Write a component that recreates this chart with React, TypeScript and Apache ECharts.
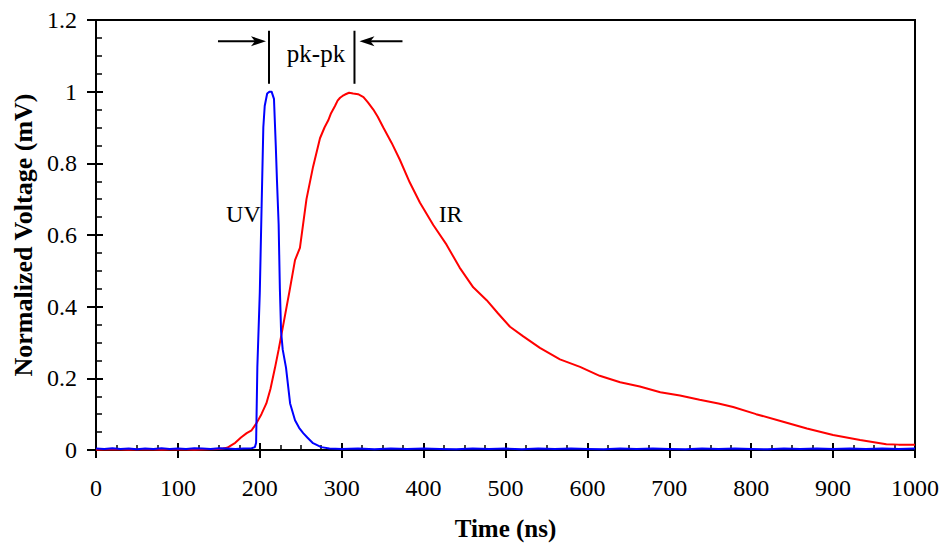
import React, { useEffect, useRef } from "react";
import * as echarts from "echarts";

// ---- data (time in ns, normalized voltage) ----
const uvTime = [0, 10, 20, 30, 40, 50, 60, 70, 80, 90, 100, 110, 120, 130, 140, 150, 160, 170, 180, 190, 194, 195.5, 197, 200, 202.3, 204.3, 206, 209, 212, 214.4, 217.3, 219.5, 221, 223, 224.5, 226, 228, 232, 237, 243, 248, 253, 258, 265, 275, 285, 300, 320, 340, 360, 380, 400, 420, 440, 460, 480, 500, 520, 540, 560, 580, 600, 620, 640, 660, 680, 700, 720, 740, 760, 780, 800, 820, 840, 860, 880, 900, 920, 940, 960, 980, 1000];
const uvValue = [0.004, 0.003, 0.005, 0.003, 0.004, 0.002, 0.004, 0.003, 0.005, 0.003, 0.004, 0.003, 0.005, 0.004, 0.003, 0.005, 0.004, 0.003, 0.004, 0.005, 0.008, 0.02, 0.23, 0.44, 0.69, 0.9, 0.96, 0.995, 1.0, 1.0, 0.98, 0.85, 0.75, 0.63, 0.45, 0.33, 0.28, 0.23, 0.13, 0.083, 0.062, 0.047, 0.035, 0.019, 0.008, 0.004, 0.003, 0.004, 0.002, 0.004, 0.003, 0.004, 0.003, 0.002, 0.004, 0.003, 0.004, 0.002, 0.004, 0.003, 0.004, 0.003, 0.002, 0.004, 0.003, 0.004, 0.003, 0.002, 0.004, 0.003, 0.004, 0.003, 0.002, 0.004, 0.003, 0.004, 0.003, 0.004, 0.003, 0.004, 0.003, 0.004];

const irTime = [0, 20, 40, 60, 80, 100, 120, 140, 150, 155, 160, 163, 170, 177, 184, 190, 196, 202, 208, 213, 218.6, 223, 228.7, 236, 243, 249, 257, 265, 273.5, 279, 283.6, 287, 291.8, 295, 298, 301, 304, 309, 314, 320, 326.6, 332, 338.6, 344, 350.8, 361, 371, 383, 395.6, 411.8, 428, 444, 460.6, 477, 491, 505.5, 521.7, 542, 566.5, 591, 615, 640, 664, 689, 713, 737, 760, 778, 806, 839, 868, 900, 933, 965, 980, 1000];
const irValue = [0.001, 0.002, 0.001, 0.002, 0.001, 0.002, 0.001, 0.002, 0.003, 0.004, 0.006, 0.01, 0.02, 0.035, 0.047, 0.055, 0.075, 0.1, 0.13, 0.17, 0.23, 0.28, 0.35, 0.44, 0.53, 0.564, 0.7, 0.79, 0.87, 0.9, 0.92, 0.94, 0.96, 0.975, 0.983, 0.988, 0.992, 0.997, 0.995, 0.993, 0.985, 0.97, 0.95, 0.93, 0.9, 0.857, 0.81, 0.747, 0.69, 0.628, 0.573, 0.509, 0.454, 0.418, 0.381, 0.344, 0.317, 0.285, 0.253, 0.232, 0.207, 0.189, 0.177, 0.161, 0.152, 0.14, 0.13, 0.12, 0.1, 0.079, 0.06, 0.042, 0.028, 0.016, 0.015, 0.015];

// annotation anchors (data coordinates)
const uvLabelPos = [180, 0.66];
const irLabelPos = [433, 0.66];
const uvPeakTime = 211.2;
const irPeakTime = 315.6;
const pkLineTop = 1.17;
const pkLineBottom = 1.022;
const arrowLevel = 1.141;
const pkTextPos = [268.6, 1.107];

const FONT = "'Liberation Serif', 'Times New Roman', serif";

export default function App() {
  const ref = useRef<HTMLDivElement>(null);
  useEffect(() => {
    document.body.style.margin = "0";
    const chart = echarts.init(ref.current!, null, { renderer: "svg" });
    const axisCommon = {
      type: "value" as const,
      splitLine: { show: false },
    };
    const option: any = {
      animation: false,
      backgroundColor: "#fff",
      grid: {
        left: 96,
        width: 819,
        top: 20,
        height: 437,
        show: true,
        borderColor: "#000",
        borderWidth: 2,
        backgroundColor: "transparent",
      },
      xAxis: [
        {
          ...axisCommon,
          min: 0,
          max: 1000,
          interval: 100,
          position: "bottom",
          axisLine: { show: true, lineStyle: { color: "#000", width: 2 } },
          axisTick: { show: true, inside: true, length: 7, lineStyle: { color: "#000", width: 2 } },
          minorTick: { show: true, splitNumber: 4, length: 5, lineStyle: { color: "#000", width: 1.5 } },
          axisLabel: { color: "#000", fontSize: 24, fontFamily: FONT, margin: 26, formatter: (v: number) => String(v) },
          name: "Time (ns)",
          nameLocation: "middle",
          nameGap: 66,
          nameTextStyle: { color: "#000", fontSize: 25, fontWeight: "bold", fontFamily: FONT },
        },
        {
          ...axisCommon,
          min: 0,
          max: 1000,
          interval: 100,
          position: "bottom",
          axisLine: { show: false },
          axisTick: { show: true, inside: false, length: 8, lineStyle: { color: "#000", width: 2 } },
          axisLabel: { show: false },
        },
      ],
      yAxis: [
        {
          ...axisCommon,
          min: 0,
          max: 1.2,
          interval: 0.2,
          position: "left",
          axisLine: { show: true, lineStyle: { color: "#000", width: 2 } },
          axisTick: { show: true, inside: true, length: 7, lineStyle: { color: "#000", width: 2 } },
          minorTick: { show: true, splitNumber: 4, length: 6, lineStyle: { color: "#000", width: 1.5 } },
          axisLabel: {
            color: "#000",
            fontSize: 24,
            fontFamily: FONT,
            margin: 19,
            formatter: (v: number) => String(Math.round(v * 10) / 10),
          },
          name: "Normalized Voltage (mV)",
          nameLocation: "middle",
          nameGap: 60,
          nameTextStyle: { color: "#000", fontSize: 26, fontWeight: "bold", fontFamily: FONT },
        },
        {
          ...axisCommon,
          min: 0,
          max: 1.2,
          interval: 0.2,
          position: "left",
          axisLine: { show: false },
          axisTick: { show: true, inside: false, length: 9, lineStyle: { color: "#000", width: 2 } },
          axisLabel: { show: false },
        },
      ],
      series: [
        {
          name: "IR",
          type: "line",
          xAxisIndex: 0,
          yAxisIndex: 0,
          showSymbol: false,
          symbol: "none",
          data: irTime.map((t, i) => [t, irValue[i]]),
          lineStyle: { color: "#ff0000", width: 2 },
        },
        {
          name: "UV",
          type: "line",
          xAxisIndex: 0,
          yAxisIndex: 0,
          showSymbol: false,
          symbol: "none",
          data: uvTime.map((t, i) => [t, uvValue[i]]),
          lineStyle: { color: "#0000ff", width: 2 },
        },
      ],
    };
    chart.setOption(option);

    const px = (p: number[]) => chart.convertToPixel({ gridIndex: 0 }, p) as number[];
    const uvL = px(uvLabelPos);
    const irL = px(irLabelPos);
    const uvTop = px([uvPeakTime, pkLineTop]);
    const uvBot = px([uvPeakTime, pkLineBottom]);
    const irTop = px([irPeakTime, pkLineTop]);
    const irBot = px([irPeakTime, pkLineBottom]);
    const arrowY = px([0, arrowLevel])[1];
    const pkT = px(pkTextPos);
    const textStyle = { fill: "#000", fontSize: 24, fontFamily: FONT, align: "center", verticalAlign: "middle" };
    const lStart = uvTop[0] - 51;
    const lTip = uvTop[0] - 3;
    const rStart = irTop[0] + 48;
    const rTip = irTop[0] + 5;
    chart.setOption({
      graphic: [
        { type: "text", x: uvL[0], y: uvL[1], style: { ...textStyle, text: "UV" } },
        { type: "text", x: irL[0], y: irL[1], style: { ...textStyle, text: "IR" } },
        { type: "text", x: pkT[0], y: pkT[1], style: { ...textStyle, text: "pk-pk", fontSize: 25 } },
        { type: "line", shape: { x1: uvTop[0], y1: uvTop[1], x2: uvBot[0], y2: uvBot[1] }, style: { stroke: "#000", lineWidth: 2 } },
        { type: "line", shape: { x1: irTop[0], y1: irTop[1], x2: irBot[0], y2: irBot[1] }, style: { stroke: "#000", lineWidth: 2 } },
        { type: "line", shape: { x1: lStart, y1: arrowY, x2: lTip - 8, y2: arrowY }, style: { stroke: "#000", lineWidth: 2 } },
        {
          type: "polygon",
          shape: { points: [[lTip, arrowY], [lTip - 15, arrowY - 5], [lTip - 11, arrowY], [lTip - 15, arrowY + 5]] },
          style: { fill: "#000" },
        },
        { type: "line", shape: { x1: rStart, y1: arrowY, x2: rTip + 8, y2: arrowY }, style: { stroke: "#000", lineWidth: 2 } },
        {
          type: "polygon",
          shape: { points: [[rTip, arrowY], [rTip + 15, arrowY - 5], [rTip + 11, arrowY], [rTip + 15, arrowY + 5]] },
          style: { fill: "#000" },
        },
      ],
    });
    return () => chart.dispose();
  }, []);
  return <div ref={ref} style={{ width: 945, height: 546 }} />;
}
